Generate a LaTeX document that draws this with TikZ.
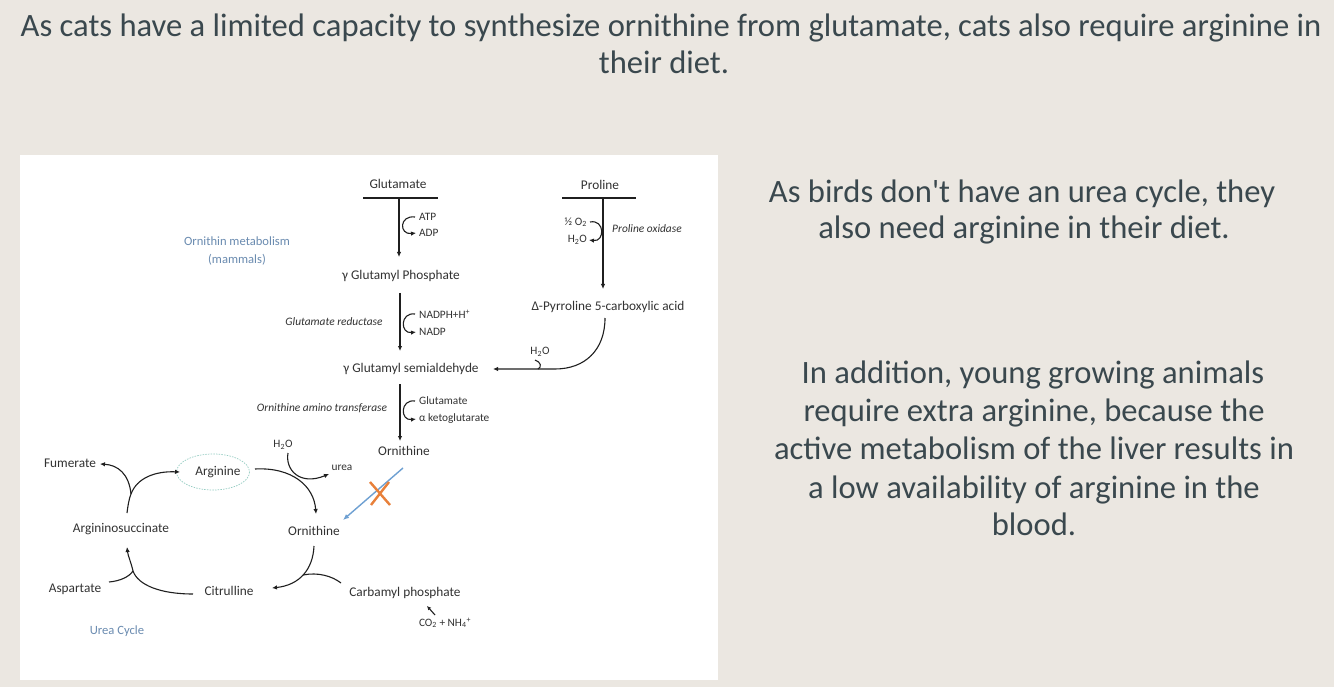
\documentclass[tikz,border=0pt]{standalone}
\usepackage{fontspec}
\setmainfont{Carlito}
\newfontfamily\slidefont{Carlito}
\usetikzlibrary{arrows.meta}
\definecolor{paper}{RGB}{235,231,225}
\definecolor{slidetext}{RGB}{58,72,78}
\definecolor{dtext}{RGB}{50,50,50}
\definecolor{bluelab}{RGB}{106,139,176}
\definecolor{ellcol}{RGB}{150,205,195}
\definecolor{blarrow}{RGB}{110,160,210}
\definecolor{xorange}{RGB}{232,128,58}
\begin{document}
\begin{tikzpicture}[x=1pt,y=-1pt,
  lab/.style={font=\fontsize{13.3}{15}\selectfont, text=dtext, inner sep=1pt},
  small/.style={font=\fontsize{11.3}{13}\selectfont, text=dtext, inner sep=1pt},
  enz/.style={font=\fontsize{11.4}{13}\selectfont\itshape, text=dtext, inner sep=1pt},
  bluelabel/.style={font=\fontsize{12.6}{15}\selectfont, text=bluelab, inner sep=1pt},
  slide/.style={font=\slidefont\fontsize{32.6}{38}\selectfont, text=slidetext, anchor=base, inner sep=0pt},
  arr/.style={line width=1.1pt, draw=black!88, -{Latex[length=5pt,width=4.5pt]}},
  ln/.style={line width=1.1pt, draw=black!88},
]
\path[fill=paper] (0,0) rectangle (1334,687);
\useasboundingbox (0,0) rectangle (1334,687);
\path[fill=white] (20,155) rectangle (718,680);

% slide text
\node[slide] (t1) at (671,37) {As cats have a limited capacity to synthesize ornithine from glutamate, cats also require arginine in};
\node[slide] (t2) at (664,74) {their diet.};
\node[slide] (b1) at (1022,203) {As birds don't have an urea cycle, they};
\node[slide] (b2) at (1024,239) {also need arginine in their diet.};
\node[slide] (c1) at (1033,383) {In addition, young growing animals};
\node[slide] (c2) at (1034,421) {require extra arginine, because the};
\node[slide] (c3) at (1034,459) {active metabolism of the liver results in};
\node[slide] (c4) at (1034,498) {a low availability of arginine in the};
\node[slide] (c5) at (1034,535) {blood.};

% ornithine metabolism
\node[bluelabel] (om) at (237,241) {Ornithin metabolism};
\node[bluelabel] (mam) at (237,260) {(mammals)};

\node[lab] (glu) at (398,184) {Glutamate};
\node[lab] (pro) at (600,185) {Proline};
\node[lab] (gp) at (401,276) {γ Glutamyl Phosphate};
\node[lab] (gsa) at (411,369) {γ Glutamyl semialdehyde};
\node[lab] (orn1) at (404,451) {Ornithine};
\node[lab] (p5c) at (608,307) {Δ-Pyrroline 5-carboxylic acid};

\node[small, anchor=west] (atp) at (418,217) {ATP};
\node[small, anchor=west] (adp) at (418,233) {ADP};
\node[small, anchor=west] (nadph) at (418,314) {NADPH+H\textsuperscript{+}};
\node[small, anchor=west] (nadp) at (418,332) {NADP};
\node[small, anchor=west] (glus) at (418,401) {Glutamate};
\node[small, anchor=west] (akg) at (418,419) {α ketoglutarate};
\node[small, anchor=east] (o2) at (588,222) {½ O\textsubscript{2}};
\node[small, anchor=east] (h2oa) at (588,240) {H\textsubscript{2}O};
\node[small] (h2ob) at (540,352) {H\textsubscript{2}O};

\node[enz] (e1) at (334,322) {Glutamate reductase};
\node[enz] (e2) at (322,408) {Ornithine amino transferase};
\node[enz, anchor=west] (e3) at (611,229) {Proline oxidase};

% bars and main arrows
\coordinate (glubarL) at (363,198);
\coordinate (glubarR) at (438,198);
\coordinate (glubar) at (399,198);
\coordinate (gpin) at (399,257);
\draw[ln] (glubarL) -- (glubarR);
\draw[arr] (glubar) -- (gpin);
\draw[arr] ([xshift=-3pt]atp.west) .. controls (399,215) and (399,235) .. ([xshift=-2pt]adp.west);

\coordinate (probarL) at (562,198);
\coordinate (probarR) at (636,198);
\coordinate (probar) at (603,198);
\coordinate (p5cin) at (603,289);
\draw[ln] (probarL) -- (probarR);
\draw[arr] (probar) -- (p5cin);
\draw[arr] ([xshift=2pt]o2.east) .. controls (605,219) and (605,242) .. ([xshift=1pt]h2oa.east);

\coordinate (gpout) at (400,293);
\coordinate (gsain) at (400,351);
\draw[arr] (gpout) -- (gsain);
\draw[arr] ([xshift=-3pt]nadph.west) .. controls (400,312) and (400,334) .. ([xshift=-2pt]nadp.west);

\coordinate (gsaout) at (400,384);
\coordinate (orn1in) at (400,441);
\draw[arr] (gsaout) -- (orn1in);
\draw[arr] ([xshift=-3pt]glus.west) .. controls (400,399) and (400,421) .. ([xshift=-2pt]akg.west);

\coordinate (p5cout) at (605,318);
\coordinate (gsaend) at (493,369);
\draw[arr] (p5cout) .. controls (605,350) and (585,369) .. (555,369) -- (gsaend);
\draw[ln] (535,360) .. controls (541,362) and (542,367) .. (538,369);

% urea cycle
\node[lab] (arg) at (218,472) {Arginine};
\draw[ellcol, line width=0.7pt, dash pattern=on 1.5pt off 1.2pt] (213,472) ellipse [x radius=36.5, y radius=18];
\coordinate (argw) at (180,472);
\node[lab] (fum) at (70,463) {Fumerate};
\node[lab] (asuc) at (121,529) {Argininosuccinate};
\node[lab] (asp) at (75,589) {Aspartate};
\node[lab] (cit) at (229,591) {Citrulline};
\node[lab] (orn2) at (314,531) {Ornithine};
\node[lab] (carb) at (405,593) {Carbamyl phosphate};
\node[small] (co2) at (445,623) {CO\textsubscript{2} + NH\textsubscript{4}\textsuperscript{+}};
\node[bluelabel] (ucyc) at (117,631) {Urea Cycle};
\node[small] (h2oc) at (283,445) {H\textsubscript{2}O};
\node[small] (urea) at (342,468) {urea};

\coordinate (asucTop) at (127,513);
\coordinate (f1) at (131,494);
\coordinate (fumE) at (100,464);
\draw[ln] (asucTop) .. controls (128,505) and (129,499) .. (f1);
\draw[arr] (f1) .. controls (129,474) and (118,465) .. (fumE);
\draw[arr] (f1) .. controls (137,478) and (155,471) .. (argw);

\coordinate (f2) at (133,571);
\coordinate (citW) at (193,594);
\coordinate (aspE) at (109,582);
\coordinate (asucBot) at (127,547);
\draw[ln] (citW) .. controls (160,594) and (138,585) .. (f2);
\draw[ln] (aspE) .. controls (120,581) and (129,577) .. (f2);
\draw[arr] (f2) .. controls (131,562) and (128,556) .. (asucBot);

\coordinate (argE) at (255,469);
\coordinate (orn2in) at (316,514);
\draw[arr] (argE) .. controls (292,467) and (314,486) .. (orn2in);
\coordinate (h2oS) at (288,453);
\coordinate (ureaW) at (329,474);
\draw[arr] (h2oS) .. controls (285,470) and (300,486) .. (ureaW);

\coordinate (orn2out) at (314,546);
\coordinate (citE) at (272,588);
\coordinate (carbW) at (341,583);
\coordinate (f3) at (303,575);
\draw[arr] (orn2out) .. controls (313,569) and (300,585) .. (citE);
\draw[ln] (carbW) .. controls (332,576) and (318,572) .. (f3);
\coordinate (co2N) at (435,615);
\coordinate (carbS) at (427,606);
\draw[line width=1.1pt, draw=black!88, -{Latex[length=4pt,width=4pt]}] (co2N) -- (carbS);

% blocked route
\coordinate (blA) at (403,468);
\coordinate (blB) at (343,520);
\draw[blarrow, line width=1.4pt, -{Latex[length=6pt,width=5pt]}] (blA) -- (blB);
\coordinate (xa) at (370,482);
\coordinate (xb) at (390,505);
\coordinate (xc) at (389,482);
\coordinate (xd) at (371,505);
\draw[xorange, line width=2.4pt] (xa) -- (xb) (xc) -- (xd);
\end{tikzpicture}
\end{document}
